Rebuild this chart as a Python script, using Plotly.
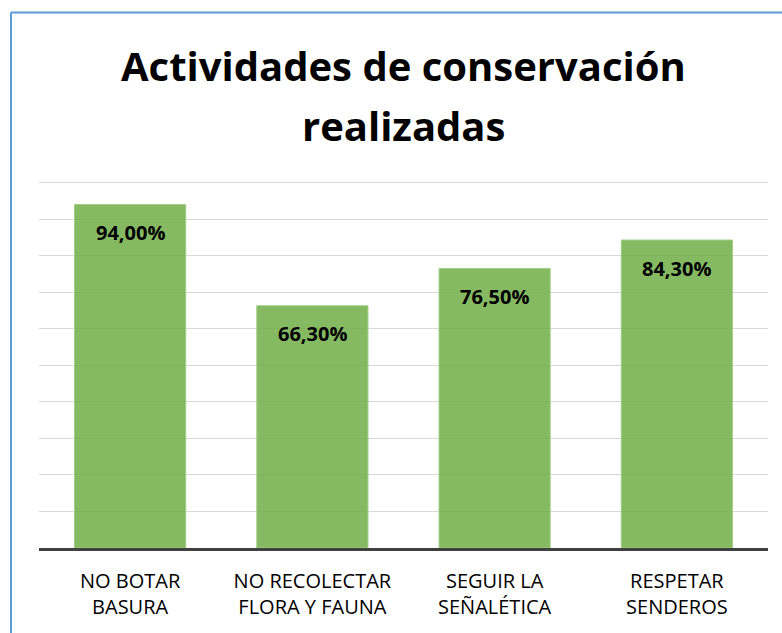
import plotly.graph_objects as go

categories = ["NO BOTAR<br>BASURA", "NO RECOLECTAR<br>FLORA Y FAUNA", "SEGUIR LA<br>SEÑALÉTICA", "RESPETAR<br>SENDEROS"]
values = [94.0, 66.3, 76.5, 84.3]
labels = ["94,00%", "66,30%", "76,50%", "84,30%"]
title_lines = ["Actividades de conservación", "realizadas"]

FONT = "Open Sans"
W, H = 782, 633
YMAX = 101
L, R, B = 39, 14, 85
ph = 365 * YMAX / 100
T = H - B - ph
pw = W - L - R

fig = go.Figure()
fig.add_trace(go.Bar(
    x=categories, y=values,
    marker=dict(color="rgba(112,173,71,0.85)", line=dict(color="#9fce85", width=1)),
    hoverinfo="skip",
))

for c, v, t in zip(categories, values, labels):
    fig.add_annotation(x=c, y=v, text="<b>%s</b>" % t, showarrow=False,
                       yanchor="middle", yshift=-28, xref="x", yref="y",
                       font=dict(family=FONT, size=20, color="#000000"))

def px_x(p):
    return (p - L) / pw

def px_y(p):
    return (H - B - p) / ph

# title lines
for line, yc in zip(title_lines, [66, 126]):
    fig.add_annotation(x=0.5, y=px_y(yc), xref="paper", yref="paper", text="<b>%s</b>" % line,
                       showarrow=False, xanchor="center", yanchor="middle",
                       font=dict(family=FONT, size=40, color="#000000"))

# outer frame (blue left and top border)
fig.add_shape(type="line", xref="paper", yref="paper",
              x0=px_x(11), x1=px_x(11), y0=px_y(13), y1=px_y(640),
              line=dict(color="#5b9bd5", width=2))
fig.add_shape(type="line", xref="paper", yref="paper",
              x0=px_x(11), x1=px_x(790), y0=px_y(13), y1=px_y(13),
              line=dict(color="#5b9bd5", width=2))

fig.update_layout(
    width=W, height=H,
    margin=dict(l=L, r=R, t=T, b=B),
    paper_bgcolor="white", plot_bgcolor="white",
    bargap=0.39,
    showlegend=False,
    font=dict(family=FONT, color="#000000"),
)
fig.update_xaxes(showline=True, linecolor="#404040", linewidth=3, ticks="",
                 tickfont=dict(family=FONT, size=20, color="#000000"), showgrid=False,
                 ticklabelstandoff=13)
fig.update_yaxes(range=[0, YMAX], dtick=10, showgrid=True, gridcolor="#d9d9d9", gridwidth=1,
                 showticklabels=False, zeroline=False, ticks="")

fig.write_html("out.html", config={"displayModeBar": False},
               post_script="document.body.style.margin='0';document.body.style.overflow='hidden';")
